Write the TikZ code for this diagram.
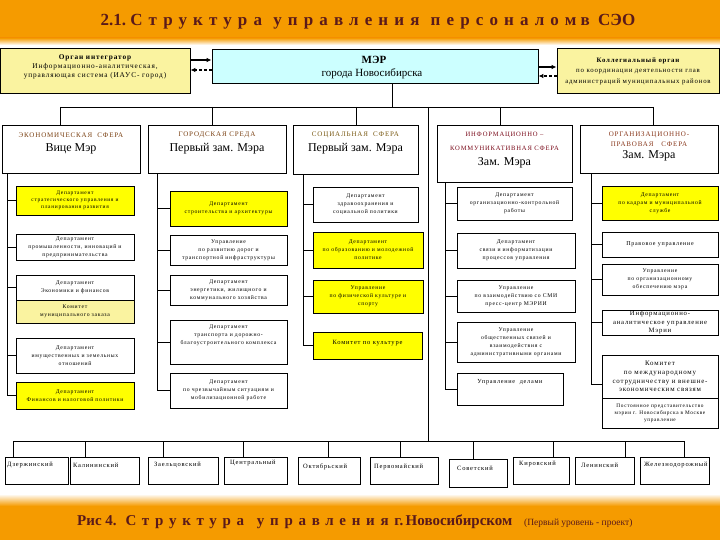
\documentclass[tikz,border=0pt]{standalone}
\usepackage{fontspec}
\setmainfont{Liberation Serif}
\newfontfamily\lsfont[LetterSpace=12]{Liberation Serif}
\usetikzlibrary{arrows.meta}
\definecolor{orng}{HTML}{F59B00}
\definecolor{ttl}{HTML}{5A1A1A}
\definecolor{pyel}{HTML}{FAF3A0}
\definecolor{byel}{HTML}{FFFF00}
\definecolor{cyn}{HTML}{CCFFFF}
\definecolor{hbA}{HTML}{7A4012}
\definecolor{hbB}{HTML}{7A5A14}
\definecolor{hrC}{HTML}{7A0A1A}
\definecolor{hbD}{HTML}{8A3A1E}
\tikzset{
  ln/.style={draw=black, line width=0.8pt},
  bx/.style={draw=black, line width=0.8pt, inner sep=0.5pt, align=center},
  dep/.style={bx, font=\lsfont\fontsize{5.7}{8}\selectfont},
  arr/.style={line width=1.1pt, -{Latex[length=5pt,width=4.5pt]}},
  dsh/.style={dash pattern=on 3pt off 2pt},
  txt/.style={inner sep=0pt, align=center},
  hd/.style={txt, font=\lsfont\fontsize{7}{8}\selectfont},
  nm/.style={txt, font=\fontsize{12}{14}\selectfont},
  dtx/.style={inner sep=0pt, anchor=west, font=\lsfont\fontsize{6.5}{8}\selectfont},
}
\newcommand\bxnode[7]{\node[#6,minimum width={#4pt-#2pt},minimum height={#5pt-#3pt}] (#1) at ({(#2+#4)/2},{(#3+#5)/2}) {#7};}
\begin{document}
\begin{tikzpicture}[x=1pt,y=-1pt]
\useasboundingbox (0,0) rectangle (720,540);
\fill[white] (0,0) rectangle (720,540);
% header and footer bands
\fill[orng] (0,0) rectangle (720,38);
\shade[top color=orng, bottom color=white] (0,38) rectangle (720,45);
\shade[top color=white, bottom color=orng] (0,494) rectangle (720,506);
\fill[orng] (0,506) rectangle (720,540);
\node[txt, text=ttl, font=\bfseries\fontsize{17}{19}\selectfont] (title) at (368,22)
  {2.1.\ {\addfontfeature{LetterSpace=36}Структура}\hspace{7pt} {\addfontfeature{LetterSpace=36}управления}\hspace{7pt} {\addfontfeature{LetterSpace=36}персоналом} в\hspace{4pt} СЭО};
\node[txt, text=ttl, anchor=west, font=\bfseries\fontsize{15}{17}\selectfont] (caption) at (77,522)
  {Рис 4.\hspace{4pt} {\addfontfeature{LetterSpace=38}Структура}\hspace{9pt} {\addfontfeature{LetterSpace=38}управления}\hspace{2pt} г.\,Новосибирском\hspace{8pt} {\mdseries\fontsize{9.5}{11}\selectfont (Первый уровень - проект)}};

% top row
\bxnode{tl}{0.5}{48}{190}{93}{bx,fill=pyel}{}
\node[txt, font=\lsfont\fontsize{7.3}{9}\selectfont] (tlt) at (95,67)
  {{\bfseries Орган интегратор}\\Информационно-аналитическая,\\управляющая система (ИАУС- город)};
\bxnode{m}{212}{49}{538}{83}{bx,fill=cyn}{}
\node[txt, font=\bfseries\fontsize{11}{13}\selectfont] (mt1) at (374,60) {МЭР};
\node[txt, font=\fontsize{11}{13}\selectfont] (mt2) at (372,74) {города Новосибирска};
\bxnode{tr}{557}{48}{719.5}{93}{bx,fill=pyel}{}
\node[txt, font=\lsfont\fontsize{6.8}{10.5}\selectfont] (trt) at (638,71)
  {{\bfseries Коллегиальный орган}\\по координации деятельности глав\\администраций муниципальных районов};
\coordinate (ya1) at (0,60); \coordinate (ya2) at (0,70);
\coordinate (yb1) at (0,67); \coordinate (yb2) at (0,76);
\draw[arr] (tl.east |- ya1) -- (m.west |- ya1);
\draw[arr,dsh] (m.west |- ya2) -- (tl.east |- ya2);
\draw[arr] (m.east |- yb1) -- (tr.west |- yb1);
\draw[arr,dsh] (tr.west |- yb2) -- (m.east |- yb2);

% spheres
\bxnode{e1}{2}{125}{140}{173}{bx}{}
\node[hd, text=hbA] (e1h) at (71,135) {ЭКОНОМИЧЕСКАЯ\ \ СФЕРА};
\node[nm] (e1n) at (71,148.5) {Вице Мэр};
\bxnode{e2}{148}{125}{286}{173}{bx}{}
\node[hd, text=hbA] (e2h) at (217,135) {ГОРОДСКАЯ СРЕДА};
\node[nm] (e2n) at (217,148.5) {Первый зам. Мэра};
\bxnode{e3}{293}{125}{418}{174}{bx}{}
\node[hd, text=hbB] (e3h) at (355.5,135) {СОЦИАЛЬНАЯ\ \ СФЕРА};
\node[nm] (e3n) at (355.5,148.5) {Первый зам. Мэра};
\bxnode{e4}{437}{125}{572}{182}{bx}{}
\node[hd, text=hrC, font=\lsfont\fontsize{6.6}{8}\selectfont] (e4h1) at (504.5,135) {ИНФОРМАЦИОННО –};
\node[hd, text=hrC, font=\lsfont\fontsize{6.6}{8}\selectfont] (e4h2) at (504.5,148) {КОММУНИКАТИВНАЯ СФЕРА};
\node[nm] (e4n) at (504.5,163) {Зам. Мэра};
\bxnode{e5}{580}{125}{718}{173}{bx}{}
\node[hd, text=hbD] (e5h1) at (649,135) {ОРГАНИЗАЦИОННО-};
\node[hd, text=hbD] (e5h2) at (649,144.5) {ПРАВОВАЯ\ \ \ СФЕРА};
\node[nm] (e5n) at (649,156) {Зам. Мэра};

% bus from mayor
\coordinate (mb) at (392,107);
\draw[ln] (m.south -| mb) -- (mb);
\coordinate (b1) at (60,107); \coordinate (b2) at (212,107); \coordinate (b3) at (356,107);
\coordinate (b4) at (500,107); \coordinate (b5) at (653,107);
\draw[ln] (b1) -- (b5);
\foreach \i in {1,...,5} \draw[ln] (b\i) -- (b\i |- e\i.north);

% column 1
\bxnode{d1a}{16}{186}{134}{215}{dep,fill=byel,font=\lsfont\fontsize{5.5}{6.8}\selectfont}{Департамент\\стратегического управления и\\планирования развития}
\bxnode{d1b}{16}{234}{134}{260}{dep}{Департамент\\промышленности, инноваций и\\предпринимательства}
\bxnode{d1c}{16}{275}{134}{300}{dep}{Департамент\\Экономики и финансов}
\bxnode{d1m}{16}{300}{134}{323}{dep,fill=pyel}{Комитет\\муниципального заказа}
\bxnode{d1d}{16}{338}{134}{373}{dep}{Департамент\\имущественных и земельных\\отношений}
\bxnode{d1e}{16}{382}{134}{409}{dep,fill=byel}{Департамент\\Финансов и налоговой политики}
\coordinate (s1) at (7,0);
\draw[ln] (e1.south -| s1) |- (d1e.west);
\foreach \n in {d1a,d1b,d1c,d1d} \draw[ln] (\n.west) -- (\n.west -| s1);

% column 2
\bxnode{d2a}{170}{191}{287}{226}{dep,fill=byel}{Департамент\\строительства и архитектуры}
\bxnode{d2b}{170}{235}{287}{265}{dep}{Управление\\по развитию дорог и\\транспортной инфраструктуры}
\bxnode{d2c}{170}{275}{287}{305}{dep}{Департамент\\энергетики, жилищного и\\коммунального хозяйства}
\bxnode{d2d}{170}{320}{287}{364}{dep}{}
\node[txt, font=\lsfont\fontsize{5.7}{8}\selectfont] (d2dt) at (228.5,335.5) {Департамент\\транспорта и дорожно-\\благоустроительного комплекса};
\bxnode{d2e}{170}{373}{287}{408}{dep}{Департамент\\по чрезвычайным ситуациям и\\мобилизационной работе}
\coordinate (s2) at (157,0);
\draw[ln] (e2.south -| s2) |- (d2e.west);
\foreach \n in {d2a,d2b,d2c,d2d} \draw[ln] (\n.west) -- (\n.west -| s2);

% column 3
\bxnode{d3a}{313}{187}{418}{222}{dep}{Департамент\\здравоохранения и\\социальной политики}
\bxnode{d3b}{313}{232}{423}{268}{dep,fill=byel}{Департамент\\по образованию и молодежной\\политике}
\bxnode{d3c}{313}{280}{423}{313}{dep,fill=byel}{Управление\\по физической культуре и\\спорту}
\bxnode{d3d}{313}{332}{422}{359}{dep,fill=byel}{}
\node[txt, font=\lsfont\fontsize{6.5}{8}\selectfont] (d3dt) at (367.5,343) {Комитет по культуре};
\coordinate (s3) at (303,0);
\draw[ln] (e3.south -| s3) |- (d3d.west);
\foreach \n in {d3a,d3b,d3c} \draw[ln] (\n.west) -- (\n.west -| s3);

% column 4
\bxnode{d4a}{457}{187}{572}{220}{dep}{Департамент\\организационно-контрольной\\работы}
\bxnode{d4b}{457}{233}{575}{268}{dep}{Департамент\\связи и информатизации\\процессов управления}
\bxnode{d4c}{457}{280}{575}{312}{dep}{Управление\\по взаимодействию со СМИ\\пресс-центр МЭРИИ}
\bxnode{d4d}{457}{322}{575}{362}{dep}{Управление\\общественных связей и\\взаимодействия с\\административными органами}
\bxnode{d4e}{457}{373}{563}{405}{dep}{}
\node[txt, font=\lsfont\fontsize{6.2}{8}\selectfont] (d4et) at (510,382) {Управление\ \ делами};
\coordinate (s4) at (445,0);
\draw[ln] (e4.south -| s4) |- (d4e.west);
\foreach \n in {d4a,d4b,d4c,d4d} \draw[ln] (\n.west) -- (\n.west -| s4);

% column 5
\bxnode{d5a}{602}{186}{718}{220}{dep,fill=byel}{Департамент\\по кадрам и муниципальной\\службе}
\bxnode{d5b}{602}{232}{718}{257}{dep,font=\lsfont\fontsize{6}{8}\selectfont}{Правовое управление}
\bxnode{d5c}{602}{264}{718}{295}{dep}{Управление\\по организационному\\обеспечению мэра}
\bxnode{d5d}{602}{310}{718}{335}{dep,font=\lsfont\fontsize{6.7}{8.5}\selectfont}{Информационно-\\аналитическое управление\\Мэрии}
\bxnode{d5e}{602}{355}{718}{398}{dep,font=\lsfont\fontsize{6.9}{8.7}\selectfont}{Комитет\\по международному\\сотрудничеству и внешне-\\экономическим связям}
\bxnode{d5f}{602}{398}{718}{428}{dep,font=\lsfont\fontsize{5.3}{7}\selectfont}{Постоянное представительство\\мэрии г. Новосибирска в Москве\\управление}
\coordinate (s5) at (591,0);
\draw[ln] (e5.south -| s5) |- ([yshift=-8pt]d5e.west);
\foreach \n in {d5a,d5b,d5c,d5d} \draw[ln] (\n.west) -- (\n.west -| s5);

% trunk to districts
\coordinate (tk) at (428,107); \coordinate (tkb) at (428,441);
\draw[ln] (tk) -- (tkb);
\coordinate (dl) at (13,441); \coordinate (dr) at (684,441);
\draw[ln] (dl) -- (dr);
\bxnode{k1}{5}{457}{68}{484}{bx}{}
\bxnode{k2}{70}{457}{139}{484}{bx}{}
\bxnode{k3}{148}{457}{218}{484}{bx}{}
\bxnode{k4}{224}{457}{287}{484}{bx}{}
\bxnode{k5}{298}{457}{360}{484}{bx}{}
\bxnode{k6}{370}{457}{438}{484}{bx}{}
\bxnode{k7}{449}{459}{507}{487}{bx}{}
\bxnode{k8}{513}{457}{569}{484}{bx}{}
\bxnode{k9}{575}{457}{634}{484}{bx}{}
\bxnode{k10}{640}{457}{709}{484}{bx}{}
\node[dtx] (k1t) at (7,465) {Дзержинский};
\node[dtx] (k2t) at (73,465) {Калининский};
\node[dtx] (k3t) at (154,465) {Заельцовский};
\node[dtx] (k4t) at (230,463) {Центральный};
\node[dtx] (k5t) at (303,467) {Октябрьский};
\node[dtx] (k6t) at (374,467) {Первомайский};
\node[dtx] (k7t) at (457,468) {Советский};
\node[dtx] (k8t) at (519,464) {Кировский};
\node[dtx] (k9t) at (581,465) {Ленинский};
\node[dtx] (k10t) at (644,465) {Железнодорожный};
\foreach \n/\x in {k1/13,k2/85,k3/163,k4/243,k5/328,k6/400,k7/473,k8/553,k9/625,k10/684}
  {\coordinate (t) at (\x,441); \draw[ln] (t) -- (t |- \n.north);}
\end{tikzpicture}
\end{document}
